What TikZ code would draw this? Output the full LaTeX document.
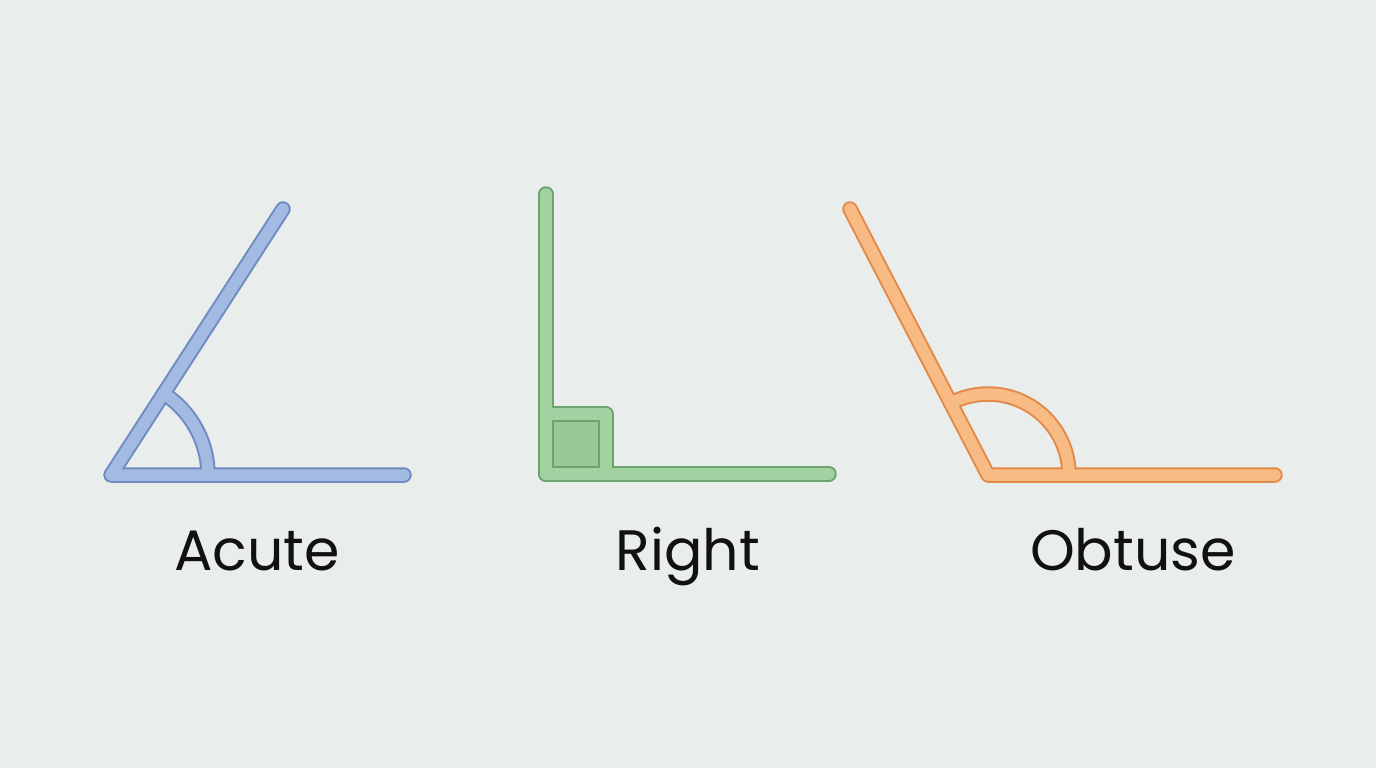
\documentclass[tikz,border=0pt]{standalone}
\usepackage{fontspec}
\setmainfont{Poppins}
\definecolor{bgc}{HTML}{E9EDEC}
\definecolor{blueL}{HTML}{A3BBE2}
\definecolor{blueD}{HTML}{6F8BC2}
\definecolor{greenL}{HTML}{A3D2A2}
\definecolor{greenS}{HTML}{97C996}
\definecolor{greenD}{HTML}{6DA46D}
\definecolor{orangeL}{HTML}{F9BB84}
\definecolor{orangeD}{HTML}{E38A4A}
\definecolor{txt}{HTML}{111111}
\tikzset{
  rim/.style={line width=15.5pt, line cap=round, line join=round},
  core/.style={line width=11.5pt, line cap=round, line join=round},
  label/.style={text=txt, font=\fontsize{57}{62}\selectfont, anchor=base}
}
\begin{document}
\begin{tikzpicture}[x=1pt,y=-1pt]
\fill[bgc] (0,0) rectangle (1376,768);
\useasboundingbox (0,0) rectangle (1376,768);
% coordinates
\coordinate (A0) at (111,475);
\coordinate (A1) at (404,475);
\coordinate (A2) at (283,209);
\coordinate (R0) at (546,474);
\coordinate (R1) at (829,474);
\coordinate (R2) at (546,194);
\coordinate (O0) at (988,475);
\coordinate (O1) at (1275,475);
\coordinate (O2) at (850,209);
% acute
\foreach \s/\c in {rim/blueD, core/blueL}{
  \draw[\s, draw=\c] (A1) -- (A0) -- (A2);
  \draw[\s, draw=\c] (A0) ++(97,0) arc[start angle=0, end angle=-57.1, radius=97];
}
% right
\fill[greenS] (R0) rectangle ++(60,-60);
\foreach \s/\c in {rim/greenD, core/greenL}{
  \draw[\s, draw=\c] (R1) -- (R0) -- (R2);
  \draw[\s, draw=\c] (R0) rectangle ++(60,-60);
}
\fill[greenS] ([shift={(7.5,-7.5)}]R0) rectangle ([shift={(52.5,-52.5)}]R0);
\draw[greenD, line width=1.6pt] ([shift={(7.5,-7.5)}]R0) rectangle ([shift={(52.5,-52.5)}]R0);
% obtuse
\foreach \s/\c in {rim/orangeD, core/orangeL}{
  \draw[\s, draw=\c] (O1) -- (O0) -- (O2);
  \draw[\s, draw=\c] (O0) ++(81,0) arc[start angle=0, end angle=-117.4, radius=81];
}
% labels
\node[label] (la) at (257,570) {Acute};
\node[label] (lr) at (688,570) {Right};
\node[label] (lo) at (1133,570) {Obtuse};
\end{tikzpicture}
\end{document}
